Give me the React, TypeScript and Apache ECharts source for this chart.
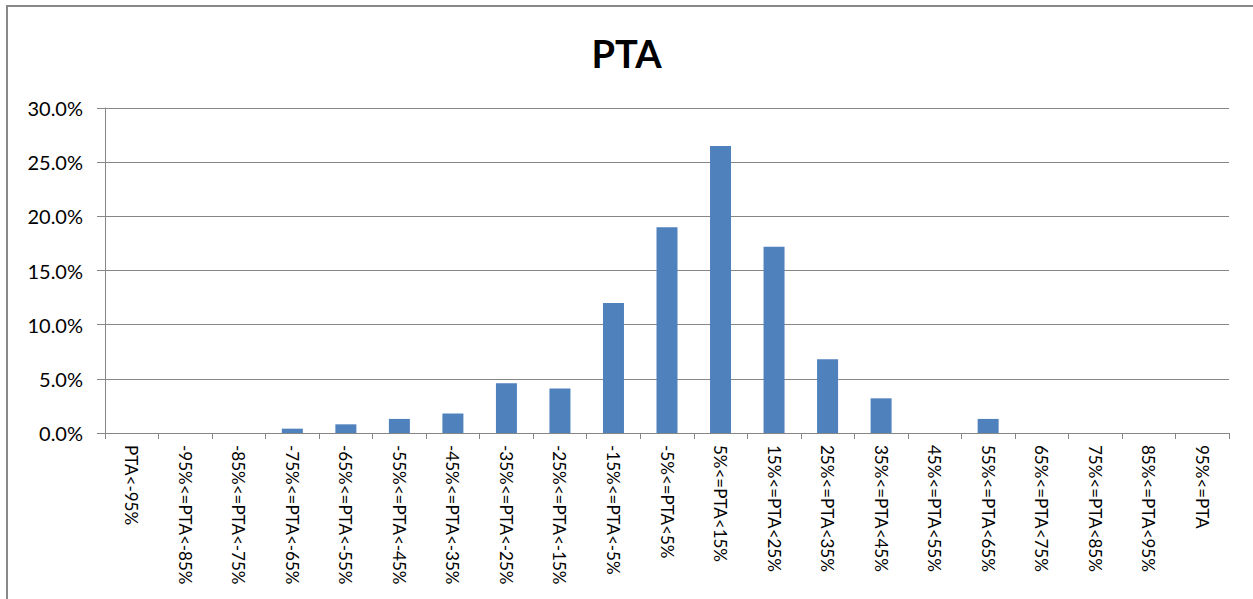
import React, { useEffect, useRef } from "react";
import * as echarts from "echarts";

const categories = [
  "PTA<-95%",
  "-95%<=PTA<-85%",
  "-85%<=PTA<-75%",
  "-75%<=PTA<-65%",
  "-65%<=PTA<-55%",
  "-55%<=PTA<-45%",
  "-45%<=PTA<-35%",
  "-35%<=PTA<-25%",
  "-25%<=PTA<-15%",
  "-15%<=PTA<-5%",
  "-5%<=PTA<5%",
  "5%<=PTA<15%",
  "15%<=PTA<25%",
  "25%<=PTA<35%",
  "35%<=PTA<45%",
  "45%<=PTA<55%",
  "55%<=PTA<65%",
  "65%<=PTA<75%",
  "75%<=PTA<85%",
  "85%<=PTA<95%",
  "95%<=PTA",
];

const shares = [0, 0, 0, 0.4, 0.8, 1.3, 1.8, 4.6, 4.1, 12.0, 19.0, 26.5, 17.2, 6.8, 3.2, 0, 1.3, 0, 0, 0, 0];

const yMin = 0;
const yMax = 30;
const yStep = 5;

const FONT = "Lato, 'Open Sans', sans-serif";

export default function App() {
  const ref = useRef<HTMLDivElement>(null);
  useEffect(() => {
    if (!ref.current) return;
    const chart = echarts.init(ref.current, null, { renderer: "svg" });
    chart.setOption({
      animation: false,
      backgroundColor: "#ffffff",
      title: {
        text: "PTA",
        left: "center",
        top: 29,
        textStyle: { fontFamily: FONT, fontWeight: "bold", fontSize: 38, color: "#000000" },
      },
      grid: { left: 105, right: 24, top: 108, bottom: 166, containLabel: false },
      xAxis: {
        type: "category",
        data: categories,
        boundaryGap: true,
        axisLine: { lineStyle: { color: "#868686", width: 1 } },
        axisTick: { show: true, length: 6, alignWithLabel: false, lineStyle: { color: "#868686" } },
        axisLabel: {
          interval: 0,
          rotate: -90,
          margin: 12,
          fontFamily: FONT,
          fontSize: 17,
          color: "#000000",
        },
      },
      yAxis: {
        type: "value",
        min: yMin,
        max: yMax,
        interval: yStep,
        axisLine: { show: true, lineStyle: { color: "#868686", width: 1 } },
        axisTick: { show: true, length: 8, lineStyle: { color: "#868686" } },
        splitLine: { show: true, lineStyle: { color: "#868686", width: 1 } },
        axisLabel: {
          margin: 22,
          fontFamily: FONT,
          fontSize: 20,
          color: "#000000",
          formatter: (v: number) => v.toFixed(1) + "%",
        },
      },
      series: [
        {
          type: "bar",
          data: shares,
          barWidth: 21,
          itemStyle: { color: "#4F81BD" },
        },
      ],
      graphic: [
        {
          type: "line",
          shape: { x1: 6, y1: 6, x2: 1253, y2: 6 },
          style: { stroke: "#888888", lineWidth: 2 },
        },
        {
          type: "line",
          shape: { x1: 7, y1: 5, x2: 7, y2: 599 },
          style: { stroke: "#888888", lineWidth: 2 },
        },
      ],
    });
    return () => chart.dispose();
  }, []);
  return (
    <div
      ref={ref}
      style={{ position: "absolute", left: 0, top: 0, width: 1253, height: 599 }}
    />
  );
}
